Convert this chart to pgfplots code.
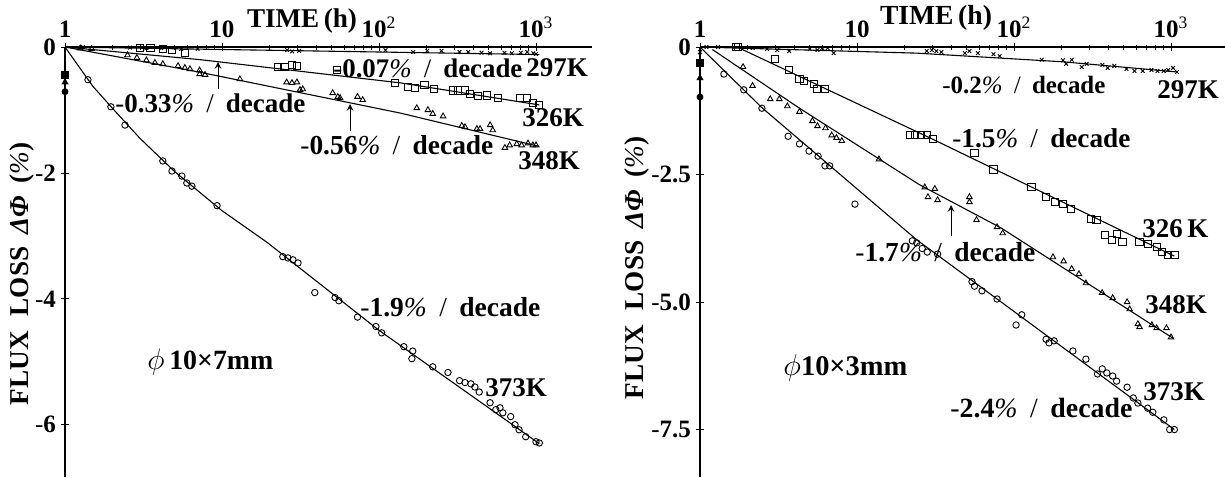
\documentclass[border=0pt]{standalone}
\usepackage{graphicx}
\usepackage{pgfplots}
\pgfplotsset{compat=1.18}
\usepackage{fontspec}
\setmainfont{Liberation Serif}
\newcommand\dec[1]{{\mdseries-}\textbf{#1}{\itshape\mdseries\%}\hspace{0.45em}{\mdseries/}\hspace{0.45em}\textbf{decade}}
\newcommand\D[2]{\resizebox{#1pt}{!}{\fontsize{13.5}{14}\selectfont\dec{#2}}}
\newcommand\fs{\fontsize{13.5}{14}\selectfont}
\newcommand\ylab{\bfseries\fontsize{13.6}{14}\selectfont FLUX\hspace{0.55em}LOSS\hspace{0.45em}\textit{ΔΦ}\hspace{0.45em}(\textit{\mdseries\%})}
\pgfplotsset{
  flux/.style={
    scale only axis, xmin=1,
    axis x line=top, axis y line=left,
    axis line style={-, line width=0.6pt},
    clip=false,
    xtick={1,10,100,1000},
    xticklabels={1,10,10\textsuperscript{\mdseries 2},10\textsuperscript{\mdseries 3}},
    ticklabel style={font=\bfseries\fontsize{12.5}{13}\selectfont},
    /pgf/number format/assume math mode=true,
    tick align=center, major tick length=4pt, minor tick length=2.5pt,
    tick style={line width=0.4pt, black},
    xticklabel style={yshift=-1pt},
    yticklabel style={xshift=1pt},
  },
  fitl/.style={black, line width=0.55pt, no marks},
  circ/.style={only marks, mark=o, mark size=1.6pt, mark options={line width=0.45pt}},
  sq/.style={only marks, mark=square, mark size=1.8pt, mark options={line width=0.45pt}},
  tri/.style={only marks, mark=triangle, mark size=1.6pt, mark options={line width=0.45pt}},
  crs/.style={only marks, mark=x, mark size=1.3pt, mark options={line width=0.45pt}},
}
\begin{document}
\begin{tikzpicture}
\path[use as bounding box] (0,0) rectangle (612.5pt,-238.5pt);
% ---------------- left panel ----------------
\begin{axis}[xmode=log, flux, at={(32.5pt,-238.5pt)}, anchor=south west,
  width=263.5pt, height=215pt, xmax=2274, ymin=-6.83, ymax=0,
  ytick={0,-2,-4,-6},
  yticklabels={0,{\mdseries-}2,{\mdseries-}4,{\mdseries-}6}]
% 373K
\addplot[circ] coordinates {(1.40,-0.52)(1.96,-0.95)(2.41,-1.24)(4.2,-1.81)(4.8,-1.97)(5.55,-2.05)(5.97,-2.16)(6.43,-2.21)(9.3,-2.52)(24.4,-3.33)(26.3,-3.35)(28.3,-3.38)(30.5,-3.43)(39,-3.9)(52.5,-3.98)(55.5,-4.03)(73,-4.29)(95.6,-4.44)(104,-4.54)(144,-4.76)(164,-4.83)(162,-4.95)(220,-5.08)(275,-5.17)(326,-5.30)(353,-5.33)(385,-5.35)(408,-5.40)(435,-5.48)(510,-5.65)(555,-5.76)(590,-5.73)(615,-5.81)(690,-5.87)(735,-6.0)(780,-6.08)(860,-6.19)(1000,-6.27)(1050,-6.29)};
\addplot[fitl] coordinates {(1,0)(1.5,-0.62)(2,-0.97)(3,-1.45)(5,-1.98)(10,-2.6)(19.3,-3.1)(100,-4.5)(1050,-6.3)};
% 348K
\addplot[tri] coordinates {(1.25,-0.02)(1.48,-0.03)(2.5,-0.13)(2.87,-0.17)(3.3,-0.21)(3.74,-0.25)(4.2,-0.27)(5.25,-0.30)(5.8,-0.33)(6.25,-0.35)(7.2,-0.37)(7.2,-0.43)(7.8,-0.44)(13,-0.51)(25.8,-0.56)(27.9,-0.57)(30,-0.56)(31.4,-0.68)(32.7,-0.67)(50.7,-0.73)(54.7,-0.79)(56.5,-0.81)(73,-0.79)(78.7,-0.84)(174,-0.97)(205,-1.0)(220,-1.06)(256,-1.1)(337,-1.25)(353,-1.27)(420,-1.30)(440,-1.30)(510,-1.24)(530,-1.32)(634,-1.6)(680,-1.56)(755,-1.54)(810,-1.56)(890,-1.53)(955,-1.56)(1000,-1.56)};
\addplot[fitl] coordinates {(1,0)(7.2,-0.4)(137,-1.05)(1050,-1.58)};
% 326K
\addplot[sq] coordinates {(3,-0.01)(3.5,-0.01)(4.2,-0.03)(4.8,-0.05)(5.8,-0.10)(22.7,-0.32)(25,-0.32)(28,-0.29)(30,-0.30)(54,-0.37)(126,-0.57)(153,-0.63)(169,-0.65)(195,-0.60)(225,-0.67)(295,-0.69)(317,-0.69)(353,-0.69)(380,-0.75)(425,-0.78)(485,-0.77)(570,-0.81)(790,-0.81)(875,-0.81)(955,-0.89)(1050,-0.92)};
\addplot[fitl] coordinates {(1,0)(7.2,-0.2)(137,-0.57)(1050,-0.92)};
% 297K
\addplot[crs] coordinates {(1.3,0)(2.6,-0.01)(3.3,-0.02)(4.1,-0.02)(5.5,-0.03)(7.0,-0.03)(26,-0.05)(28,-0.07)(31,-0.06)(110,-0.05)(165,-0.08)(203,-0.06)(250,-0.06)(326,-0.08)(370,-0.08)(450,-0.09)(510,-0.1)(630,-0.09)(700,-0.1)(800,-0.09)(880,-0.08)(960,-0.1)(1000,-0.11)};
\addplot[fitl] coordinates {(1,0)(1050,-0.12)};
% initial points
\addplot[only marks, mark=square*, mark size=1.8pt] coordinates {(1,-0.44)};
\addplot[only marks, mark=triangle*, mark size=1.7pt] coordinates {(1,-0.56)};
\addplot[only marks, mark=*, mark size=1.5pt] coordinates {(1,-0.71)};
\end{axis}
% ---------------- right panel ----------------
\begin{axis}[xmode=log, flux, at={(350pt,-238.5pt)}, anchor=south west,
  width=262.5pt, height=215pt, xmax=2207, ymin=-8.43, ymax=0,
  ytick={0,-2.5,-5,-7.5},
  yticklabels={0,{\mdseries-}2.5,{\mdseries-}5.0,{\mdseries-}7.5}]
% 373K
\addplot[circ] coordinates {(1.42,-0.53)(1.9,-0.84)(2.48,-1.2)(3.64,-1.75)(4.3,-1.9)(4.95,-2.04)(5.65,-2.14)(6.25,-2.33)(6.7,-2.33)(9.7,-3.08)(22.5,-3.8)(24,-3.84)(26,-3.95)(28,-4.02)(32.6,-4.06)(54,-4.6)(56,-4.69)(62.5,-4.78)(78,-4.94)(112,-5.25)(103,-5.45)(160,-5.73)(167,-5.8)(180,-5.76)(237,-5.96)(287,-6.12)(340,-6.41)(365,-6.31)(390,-6.39)(425,-6.45)(450,-6.55)(525,-6.67)(575,-6.88)(615,-6.98)(710,-7.08)(765,-7.16)(900,-7.31)(980,-7.5)(1050,-7.5)};
\addplot[fitl] coordinates {(1,0)(2.48,-1.19)(24,-3.78)(1050,-7.5)};
% 348K
\addplot[tri] coordinates {(1.88,-0.39)(2.16,-0.76)(2.8,-1.02)(3.2,-1.02)(3.6,-1.16)(4.3,-1.27)(5.2,-1.45)(5.6,-1.55)(6.3,-1.59)(6.9,-1.73)(7.4,-1.78)(8.0,-1.84)(13.8,-2.2)(27,-2.75)(31.3,-2.78)(28.3,-2.94)(32.6,-3.0)(52,-2.94)(52,-3.04)(57.7,-3.39)(78,-3.53)(84.7,-3.65)(177,-4.12)(207,-4.2)(233,-4.35)(259,-4.45)(287,-4.63)(364,-4.82)(425,-4.92)(525,-5.0)(545,-5.14)(615,-5.43)(630,-5.49)(755,-5.45)(810,-5.51)(935,-5.51)(1000,-5.69)};
\addplot[fitl] coordinates {(1.2,-0.05)(4.3,-1.2)(25,-2.7)(83,-3.55)(1030,-5.71)};
% 326K
\addplot[sq] coordinates {(1.7,0)(1.75,0)(3.0,-0.24)(3.7,-0.45)(4.3,-0.63)(4.6,-0.67)(5.3,-0.73)(5.6,-0.83)(6.2,-0.83)(21.8,-1.73)(23.4,-1.73)(25.5,-1.73)(27.8,-1.73)(30.5,-1.81)(56,-2.08)(74,-2.4)(129,-2.75)(160,-2.94)(183,-3.04)(205,-3.08)(230,-3.18)(309,-3.37)(335,-3.39)(380,-3.69)(420,-3.78)(450,-3.67)(490,-3.82)(630,-3.82)(710,-3.86)(810,-3.92)(880,-4.02)(955,-4.08)(1050,-4.08)};
\addplot[fitl] coordinates {(1,0)(1.75,-0.01)(30,-1.8)(1050,-4.1)};
% 297K
\addplot[crs] coordinates {(1,-0.1)(1.1,0)(1.3,0)(2.17,-0.02)(2.67,-0.04)(3.1,-0.06)(3.7,-0.08)(5.0,-0.04)(5.6,-0.06)(6.0,-0.02)(6.5,-0.02)(7.1,-0.12)(27.8,-0.08)(30,-0.06)(32,-0.08)(34.5,-0.1)(48.6,-0.12)(52,-0.08)(58.8,-0.12)(74,-0.14)(81,-0.18)(150,-0.25)(205,-0.26)(215,-0.33)(233,-0.25)(270,-0.39)(290,-0.33)(365,-0.35)(395,-0.41)(435,-0.37)(520,-0.43)(585,-0.47)(660,-0.47)(750,-0.45)(820,-0.47)(900,-0.47)(960,-0.45)(1030,-0.41)(1090,-0.49)};
\addplot[fitl] coordinates {(1,0)(24,-0.12)(205,-0.29)(1100,-0.49)};
% initial points
\addplot[only marks, mark=square*, mark size=1.8pt] coordinates {(1,-0.31)};
\addplot[only marks, mark=triangle*, mark size=1.7pt] coordinates {(1,-0.61)};
\addplot[only marks, mark=*, mark size=1.5pt] coordinates {(1,-0.98)};
\end{axis}
% ---------------- annotations (pixel units) ----------------
\begin{scope}[x=0.5pt,y=-0.5pt, every node/.style={inner sep=0pt, font=\fs}]
% left
\node at (302,21) {\resizebox{55pt}{!}{\bfseries\fontsize{13.6}{14}\selectfont TIME\,(h)}};
\node[rotate=90] at (22,274) {\ylab};
\node[anchor=west] at (115,103) {\D{95}{0.33}};
\draw[->, >=stealth, line width=0.5pt] (218,89) -- (218,62);
\node[anchor=west] at (333,68) {\D{94.5}{0.07}};
\node[anchor=west] at (526,68) {\bfseries 297K};
\node[anchor=west] at (522,118) {\bfseries 326K};
\node[anchor=west] at (300,145) {\D{96.5}{0.56}};
\draw[->, >=stealth, line width=0.5pt] (350,131) -- (350,104);
\node[anchor=west] at (518,161) {\bfseries 348K};
\node[anchor=west] at (360,307) {\D{90}{1.9}};
\node[anchor=west] at (485,388) {\bfseries 373K};
\node[anchor=west] at (147,362) {\resizebox{63pt}{!}{$\phi$\,\bfseries\fontsize{13.5}{14}\selectfont 10×7mm}};
% right
\node at (936,18) {\resizebox{56pt}{!}{\bfseries\fontsize{13.6}{14}\selectfont TIME\,(h)}};
\node[rotate=90] at (637,268) {\ylab};
\node[anchor=west] at (942,85) {\D{81.5}{0.2}};
\node[anchor=west] at (1157,90) {\bfseries 297K};
\node[anchor=west] at (952,138) {\D{89}{1.5}};
\node[anchor=west] at (1142,229) {\bfseries 326\,K};
\node[anchor=west] at (855,252) {\D{90}{1.7}};
\draw[->, >=stealth, line width=0.5pt] (951,236) -- (951,205);
\node[anchor=west] at (1145,305) {\bfseries 348K};
\node[anchor=west] at (1143,392) {\bfseries 373K};
\node[anchor=west] at (950,408) {\D{91}{2.4}};
\node[anchor=west] at (783,368) {\resizebox{62pt}{!}{$\phi$\bfseries\fontsize{13.5}{14}\selectfont 10×3mm}};
\end{scope}
\end{tikzpicture}
\end{document}
